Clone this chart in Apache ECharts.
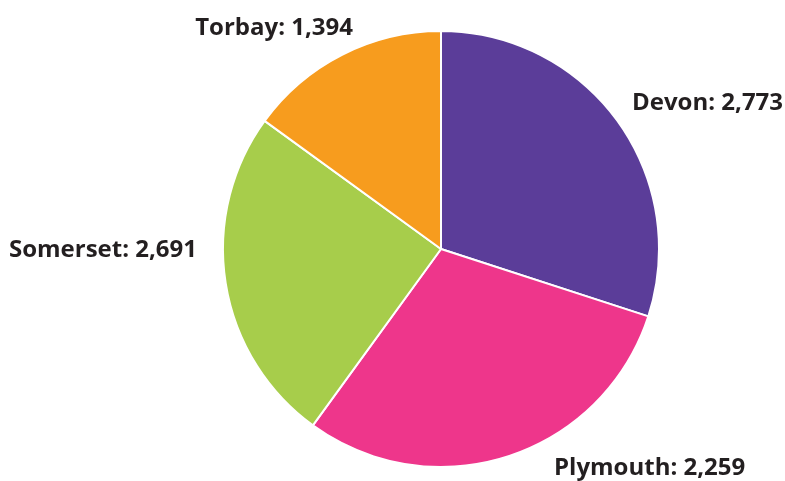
<!DOCTYPE html>
<html>
<head>
<meta charset="utf-8">
<script src="https://cdn.jsdelivr.net/npm/echarts@6/dist/echarts.min.js"></script>
<style>
    html, body { margin: 0; padding: 0; background: #fff; }
    #chart { width: 785px; height: 481px; }
</style>
</head>
<body>
<div id="chart"></div>
<script>
// data
const categories = ['Devon', 'Plymouth', 'Somerset', 'Torbay'];
const counts = [2773, 2259, 2691, 1394];
// slice sizes as drawn (percent of the circle)
const sliceShares = [30, 30, 25, 15];

const colors = ['#5b3d99', '#ee368b', '#a7cd4b', '#f79c1e'];
// where each label sits: x, y (middle of text), alignment
const labelSpots = [
    [632, 103, 'left'],
    [554, 468, 'left'],
    [197, 250, 'right'],
    [353, 28, 'right']
];

let myChart = echarts.init(document.getElementById('chart'));
let option = {
    animation: false,
    color: colors,
    series: [
        {
            type: 'pie',
            center: [441, 249],
            radius: 218,
            startAngle: 90,
            clockwise: true,
            itemStyle: {
                borderColor: '#fff',
                borderWidth: 2
            },
            label: {
                show: true,
                position: 'outside',
                color: '#231f20',
                fontFamily: 'Open Sans',
                fontWeight: 'bold',
                fontSize: 24,
                overflow: 'none',
                width: 400,
                formatter: function (p) {
                    return p.name + ': ' + counts[p.dataIndex].toLocaleString('en-GB');
                }
            },
            labelLine: { show: false },
            labelLayout: function (p) {
                let s = labelSpots[p.dataIndex];
                return { x: s[0], y: s[1], align: s[2], verticalAlign: 'middle' };
            },
            emphasis: { disabled: true },
            data: categories.map(function (c, i) {
                return { name: c, value: sliceShares[i] };
            })
        }
    ]
};
myChart.setOption(option);
</script>
</body>
</html>
